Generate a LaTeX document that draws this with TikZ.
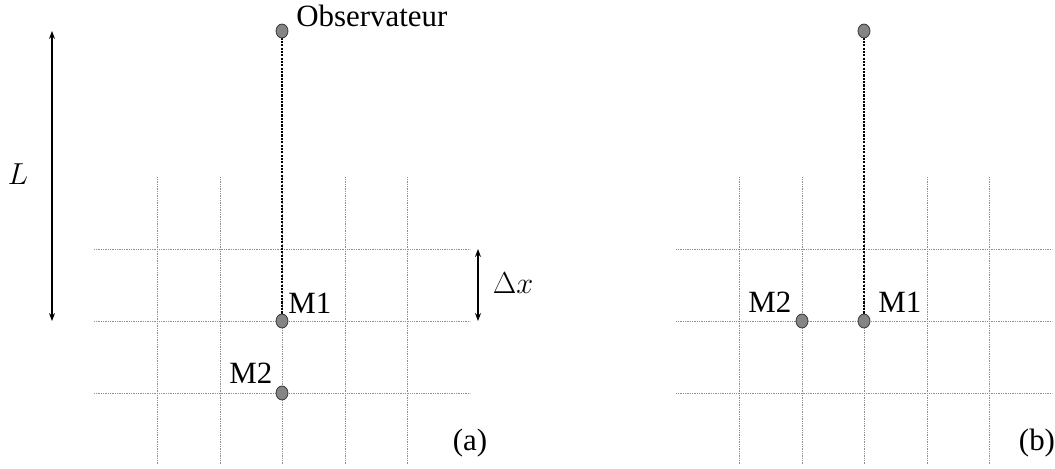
\documentclass[tikz,border=0pt]{standalone}
\usepackage{fontspec}
\setmainfont{Liberation Serif}
\usetikzlibrary{shapes.geometric, arrows.meta, positioning}
\definecolor{gridgray}{HTML}{8E8E8E}
\definecolor{dotgray}{HTML}{858585}

\begin{document}
\begin{tikzpicture}[
  x=0.02cm, y=-0.02cm,
  gl/.style={gridgray, line width=0.45pt, dash pattern=on 0.5pt off 0.5pt},
  sight/.style={black, line width=1pt, dash pattern=on 1.2pt off 0.7pt},
  pt/.style={ellipse, draw=black!75, fill=dotgray, line width=0.5pt, minimum width=6.8pt, minimum height=7.9pt, inner sep=0pt},
  lbl/.style={font=\fontsize{17.6}{21}\selectfont, inner sep=0pt},
  dim/.style={{Stealth[length=4.5pt,width=3.4pt]}-{Stealth[length=4.5pt,width=3.4pt]}, line width=0.6pt}
]
\useasboundingbox (0,0) rectangle (1055,468);

% grid (a)
\draw[gl] (157,177) -- (157,464); \draw[gl] (220,177) -- (220,464); \draw[gl] (282,177) -- (282,464);
\draw[gl] (345,177) -- (345,464); \draw[gl] (407,177) -- (407,464);
\draw[gl] (94,249) -- (470,249); \draw[gl] (94,321) -- (470,321); \draw[gl] (94,393) -- (470,393);
% grid (b)
\draw[gl] (739,177) -- (739,464); \draw[gl] (802,177) -- (802,464); \draw[gl] (864,177) -- (864,464);
\draw[gl] (927,177) -- (927,464); \draw[gl] (989,177) -- (989,464);
\draw[gl] (676,249) -- (1052,249); \draw[gl] (676,321) -- (1052,321); \draw[gl] (676,393) -- (1052,393);

% (a)
\coordinate (obsa) at (282,31);
\coordinate (m1a) at (282,321);
\draw[sight] (obsa) -- (m1a);
\node[pt] (oa) at (obsa) {};
\node[pt] (pa1) at (m1a) {};
\node[pt] (pa2) at (282,393) {};
\node[lbl, anchor=base west] (tobs) at (296,26) {Observateur};
\node[lbl, anchor=base west] (ta1) at (288,313) {M1};
\node[lbl, anchor=base west] (ta2) at (229,383) {M2};
\node[lbl] (tca) at (470,443) {(a)};

\coordinate (ltop) at (52,31);
\coordinate (lbot) at (52,321);
\draw[dim] (ltop) -- (lbot);
\node[lbl] (tl) at (18,174) {$L$};
\coordinate (dxtop) at (478,249);
\coordinate (dxbot) at (478,321);
\draw[dim] (dxtop) -- (dxbot);
\node[lbl] (tdx) at (513,283) {$\Delta x$};

% (b)
\coordinate (obsb) at (864,31);
\coordinate (m1b) at (864,321);
\draw[sight] (obsb) -- (m1b);
\node[pt] (ob) at (obsb) {};
\node[pt] (pb1) at (m1b) {};
\node[pt] (pb2) at (802,321) {};
\node[lbl, anchor=base west] (tb1) at (878,312) {M1};
\node[lbl, anchor=base west] (tb2) at (748,312) {M2};
\node[lbl] (tcb) at (1037,443) {(b)};
\end{tikzpicture}
\end{document}
